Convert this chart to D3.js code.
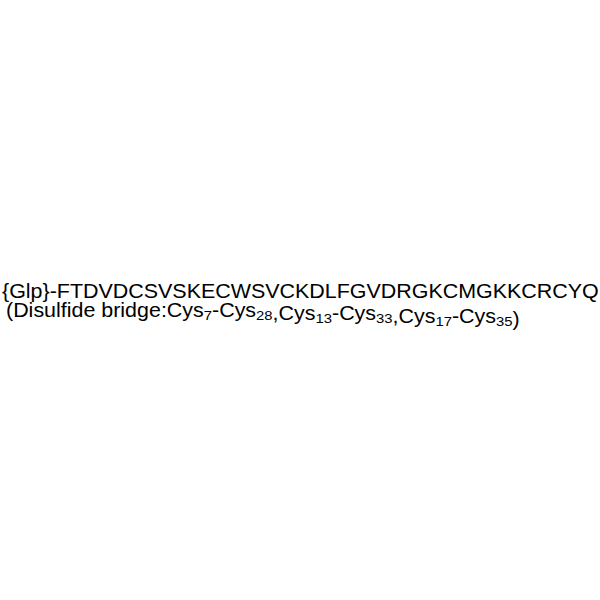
<!DOCTYPE html>
<html>
<head>
<meta charset="utf-8">
<script src="https://cdn.jsdelivr.net/npm/d3@7"></script>
<style>
  body { margin: 0; background: #fff; }
  text { font-family: Arial, "Liberation Sans", sans-serif; fill: #000; }
</style>
</head>
<body>
<svg id="chart"></svg>
<script>
// Peptide data
const nTerm = "Glp";
const residues = ["F","T","D","V","D","C","S","V","S","K","E","C","W","S","V","C","K","D","L","F","G","V","D","R","G","K","C","M","G","K","K","C","R","C","Y","Q"];
const bridgeFrom = [7, 13, 17];
const bridgeTo = [28, 33, 35];

const width = 600, height = 600;
const fontSize = 19.5;
const subSize = 13.5;
const stretch = 1.1; // the reference glyphs are a bit wider than plain Arial

const svg = d3.select('#chart')
    .attr('width', width)
    .attr('height', height);

// Sequence line
svg.append('g')
    .attr('transform', `translate(2,298) scale(${stretch},1)`)
  .append('text')
    .style('font-size', fontSize + 'px')
    .text(`{${nTerm}}-${residues.join('')}`);

// Disulfide bridge line, with subscripts
const line2 = svg.append('g')
    .attr('transform', `translate(6,317) scale(${stretch},1)`)
  .append('text')
    .style('font-size', fontSize + 'px');

line2.append('tspan').text('(Disulfide bridge:');
bridgeFrom.forEach((a, i) => {
  if (i > 0) line2.append('tspan').text(',');
  line2.append('tspan').text('Cys');
  line2.append('tspan').attr('dy', 3).style('font-size', subSize + 'px').text(a);
  line2.append('tspan').attr('dy', -3).text('-Cys');
  line2.append('tspan').attr('dy', 3).style('font-size', subSize + 'px').text(bridgeTo[i]);
  line2.append('tspan').attr('dy', -3).text('');
});
line2.append('tspan').text(')');
</script>
</body>
</html>
